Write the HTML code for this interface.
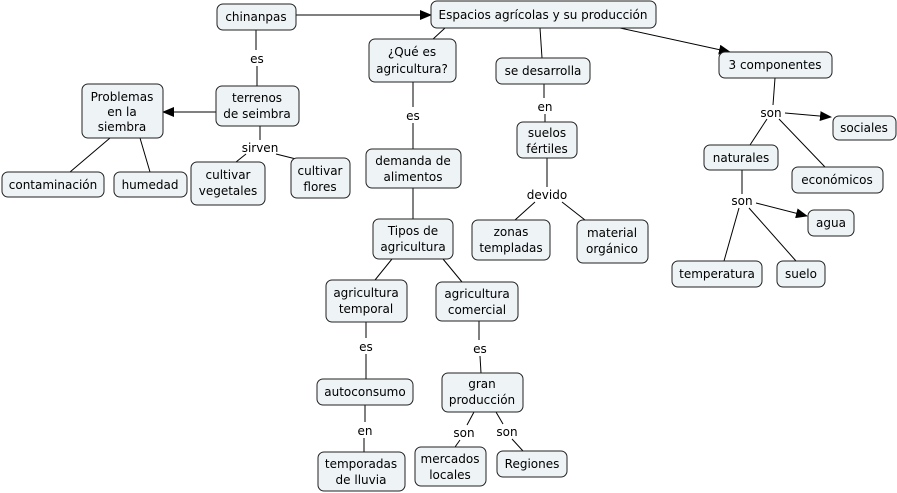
<!DOCTYPE html>
<html><head><meta charset="utf-8"><style>
body{margin:0;background:#fff}
svg{display:block}
text{font-family:"DejaVu Sans","Liberation Sans",sans-serif;font-size:12px;fill:#000;text-anchor:middle}
rect{fill:#eef3f6;stroke:#222;stroke-width:1}
line{stroke:#000;stroke-width:1}
</style></head><body>
<svg width="897" height="493" viewBox="0 0 897 493" xmlns="http://www.w3.org/2000/svg">
<defs><marker id="a" markerWidth="12" markerHeight="10" refX="11" refY="5" orient="auto" markerUnits="userSpaceOnUse"><path d="M0,0 L12,5 L0,10 z" fill="#000"/></marker></defs>
<!-- lines -->
<line x1="296" y1="15" x2="431" y2="15" marker-end="url(#a)"/>
<line x1="620" y1="28" x2="730" y2="52" marker-end="url(#a)"/>
<line x1="445" y1="28" x2="432" y2="40"/>
<line x1="540" y1="28" x2="542" y2="58"/>
<line x1="256" y1="30" x2="256" y2="50"/><line x1="257" y1="66" x2="257" y2="86"/>
<line x1="216" y1="112" x2="163" y2="112" marker-end="url(#a)"/>
<line x1="110" y1="138" x2="70" y2="172"/><line x1="140" y1="138" x2="150" y2="172"/>
<line x1="260" y1="126" x2="260" y2="140"/><line x1="246" y1="154" x2="236" y2="162"/><line x1="276" y1="154" x2="300" y2="160"/>
<line x1="413" y1="82" x2="413" y2="107"/><line x1="413" y1="123" x2="413" y2="149"/>
<line x1="413" y1="188" x2="413" y2="219"/>
<line x1="392" y1="259" x2="375" y2="280"/><line x1="443" y1="259" x2="462" y2="282"/>
<line x1="366" y1="322" x2="366" y2="338"/><line x1="366" y1="354" x2="366" y2="379"/>
<line x1="365" y1="405" x2="365" y2="422"/><line x1="364" y1="438" x2="364" y2="452"/>
<line x1="479" y1="321" x2="479" y2="340"/><line x1="480" y1="356" x2="481" y2="373"/>
<line x1="474" y1="412" x2="467" y2="425"/><line x1="460" y1="440" x2="455" y2="447"/>
<line x1="496" y1="412" x2="503" y2="424"/><line x1="512" y1="439" x2="523" y2="451"/>
<line x1="544" y1="84" x2="544" y2="98"/><line x1="545" y1="114" x2="545" y2="122"/>
<line x1="547" y1="158" x2="547" y2="187"/><line x1="535" y1="202" x2="515" y2="220"/><line x1="562" y1="202" x2="585" y2="220"/>
<line x1="775" y1="78" x2="773" y2="105"/>
<line x1="785" y1="113" x2="831" y2="117" marker-end="url(#a)"/>
<line x1="767" y1="119" x2="750" y2="145"/><line x1="779" y1="119" x2="825" y2="167"/>
<line x1="742" y1="170" x2="742" y2="194"/>
<line x1="756" y1="203" x2="807" y2="216" marker-end="url(#a)"/>
<line x1="739" y1="208" x2="724" y2="261"/><line x1="749" y1="208" x2="796" y2="261"/>
<!-- link labels -->
<g style="paint-order:stroke" stroke="#fff" stroke-width="3">
<text x="257" y="63">es</text><text x="413" y="120">es</text><text x="545" y="111">en</text>
<text x="771" y="117">son</text><text x="260" y="152">sirven</text><text x="547" y="199">devido</text>
<text x="742" y="205">son</text><text x="366" y="351">es</text><text x="480" y="353">es</text>
<text x="365" y="435">en</text><text x="464" y="437">son</text><text x="507" y="436">son</text>
</g>
<!-- nodes -->
<g>
<rect x="217" y="4" width="79" height="26" rx="6"/><text x="256" y="21">chinanpas</text>
<rect x="431" y="1" width="225" height="27" rx="6"/><text x="543" y="19">Espacios agrícolas y su producción</text>
<rect x="369" y="39" width="87" height="43" rx="6"/><text x="412" y="56">¿Qué es</text><text x="412" y="73">agricultura?</text>
<rect x="496" y="58" width="94" height="26" rx="6"/><text x="543" y="75">se desarrolla</text>
<rect x="719" y="52" width="113" height="26" rx="6"/><text x="775" y="69">3 componentes</text>
<rect x="82" y="84" width="81" height="54" rx="6"/><text x="122" y="101">Problemas</text><text x="122" y="116">en la</text><text x="122" y="131">siembra</text>
<rect x="216" y="86" width="83" height="40" rx="6"/><text x="257" y="102">terrenos</text><text x="257" y="118">de seimbra</text>
<rect x="517" y="122" width="60" height="36" rx="6"/><text x="547" y="137">suelos</text><text x="547" y="153">fértiles</text>
<rect x="833" y="116" width="63" height="24" rx="6"/><text x="864" y="132">sociales</text>
<rect x="704" y="145" width="74" height="25" rx="6"/><text x="741" y="162">naturales</text>
<rect x="792" y="167" width="91" height="26" rx="6"/><text x="837" y="184">económicos</text>
<rect x="2" y="172" width="102" height="25" rx="6"/><text x="53" y="189">contaminación</text>
<rect x="114" y="172" width="73" height="25" rx="6"/><text x="150" y="189">humedad</text>
<rect x="191" y="162" width="74" height="43" rx="6"/><text x="228" y="179">cultivar</text><text x="228" y="195">vegetales</text>
<rect x="291" y="158" width="59" height="40" rx="6"/><text x="320" y="175">cultivar</text><text x="320" y="191">flores</text>
<rect x="366" y="149" width="95" height="39" rx="6"/><text x="413" y="165">demanda de</text><text x="413" y="181">alimentos</text>
<rect x="808" y="210" width="46" height="26" rx="6"/><text x="831" y="227">agua</text>
<rect x="373" y="219" width="80" height="40" rx="6"/><text x="413" y="235">Tipos de</text><text x="413" y="251">agricultura</text>
<rect x="472" y="220" width="78" height="40" rx="6"/><text x="511" y="236">zonas</text><text x="511" y="252">templadas</text>
<rect x="577" y="220" width="71" height="43" rx="6"/><text x="612" y="237">material</text><text x="612" y="253">orgánico</text>
<rect x="672" y="261" width="90" height="26" rx="6"/><text x="717" y="278">temperatura</text>
<rect x="777" y="261" width="48" height="26" rx="6"/><text x="801" y="278">suelo</text>
<rect x="326" y="280" width="81" height="42" rx="6"/><text x="366" y="297">agricultura</text><text x="366" y="313">temporal</text>
<rect x="436" y="282" width="82" height="39" rx="6"/><text x="477" y="298">agricultura</text><text x="477" y="314">comercial</text>
<rect x="317" y="379" width="96" height="26" rx="6"/><text x="365" y="396">autoconsumo</text>
<rect x="442" y="373" width="81" height="39" rx="6"/><text x="482" y="388">gran</text><text x="482" y="404">producción</text>
<rect x="318" y="452" width="87" height="39" rx="6"/><text x="361" y="468">temporadas</text><text x="361" y="484">de lluvia</text>
<rect x="415" y="447" width="71" height="39" rx="6"/><text x="450" y="463">mercados</text><text x="450" y="479">locales</text>
<rect x="497" y="451" width="70" height="26" rx="6"/><text x="532" y="468">Regiones</text>
</g>
</svg>
</body></html>
